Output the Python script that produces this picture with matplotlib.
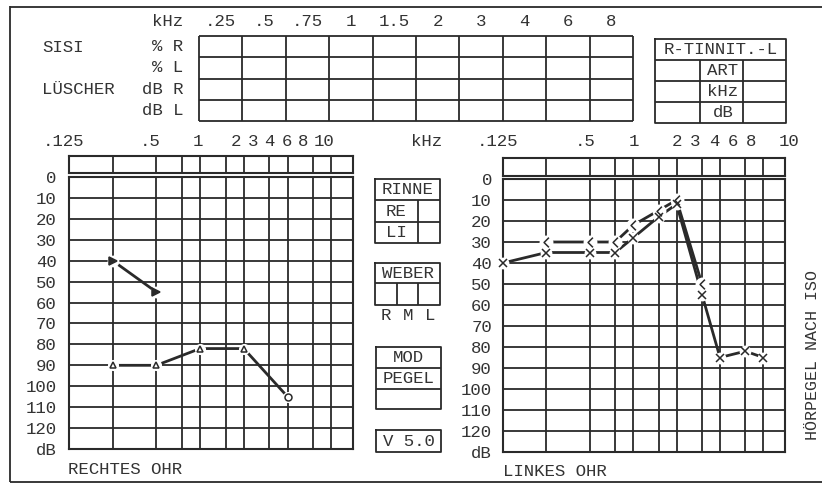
import matplotlib
matplotlib.use("Agg")
import matplotlib.pyplot as plt
from matplotlib.path import Path
from matplotlib.ticker import NullLocator

plt.rcParams["font.family"] = ["Liberation Mono", "DejaVu Sans Mono"]

# ---------------- data ----------------
grid_freqs = [0.125, 0.25, 0.5, 0.75, 1, 1.5, 2, 3, 4, 6, 8]
level_ticks = list(range(0, 140, 10))
level_labels = [str(v) for v in range(0, 130, 10)] + ["dB"]
scale_labels = [".125", ".5", "1", "2", "3", "4", "6", "8", "10"]

# right ear (RECHTES OHR)
re_bone_freq = [0.25, 0.5]
re_bone_db = [40, 55]
re_thr_freq = [0.25, 0.5, 1, 2, 4]
re_thr_db = [90, 90, 82, 82, 105]

# left ear (LINKES OHR)
li_air_freq = [0.125, 0.25, 0.5, 0.75, 1, 1.5, 2, 3, 4, 6, 8]
li_air_db = [40, 35, 35, 35, 28, 18, 12, 55, 85, 82, 85]
li_bone_freq = [0.25, 0.5, 0.75, 1, 1.5, 2, 3]
li_bone_db = [30, 30, 30, 22, 15, 10, 50]

# SISI / Lüscher table
sisi_freqs = [".25", ".5", ".75", "1", "1.5", "2", "3", "4", "6", "8"]
sisi_rows = ["% R", "% L", "dB R", "dB L"]
tinnitus_rows = ["ART", "kHz", "dB"]

# ---------------- page layout (pixels) ----------------
W, H = 822, 484
INK = "#2a2a2a"
TXT = "#333333"
FS = 12.5
LW = 1.3
XR = 11.3  # right edge of frequency axis (kHz)

fig = plt.figure(figsize=(W / 100, H / 100), dpi=100)
fig.patch.set_facecolor("white")

page = fig.add_axes([0, 0, 1, 1])
page.set_xlim(0, W)
page.set_ylim(H, 0)
page.axis("off")


def box(x0, y0, x1, y1):
    return [x0 / W, 1 - y1 / H, (x1 - x0) / W, (y1 - y0) / H]


def hline(y, x0, x1):
    page.plot([x0, x1], [y, y], color=INK, lw=LW, solid_capstyle="butt")


def vline(x, y0, y1):
    page.plot([x, x], [y0, y1], color=INK, lw=LW, solid_capstyle="butt")


def rect(x0, y0, x1, y1):
    page.plot([x0, x1, x1, x0, x0], [y0, y0, y1, y1, y0], color=INK, lw=LW)


def text(x, y, s, ha="center", **kw):
    page.text(x, y, s, ha=ha, va="center", fontsize=kw.pop("fs", FS),
              color=TXT, **kw)


# outer frame
vline(10, 6, 482)
hline(6.5, 10, W)
hline(482, 10, W)

# ---- SISI / LÜSCHER table ----
tx0, tcw = 199, 43.4
trows = [36, 57, 79, 100, 121]
for y in trows:
    hline(y, tx0, tx0 + tcw * len(sisi_freqs))
for i in range(len(sisi_freqs) + 1):
    vline(tx0 + i * tcw, trows[0], trows[-1])
for i, f in enumerate(sisi_freqs):
    text(tx0 + (i + 0.5) * tcw, 22, f)
text(183, 22, "kHz", ha="right")
for i, r in enumerate(sisi_rows):
    text(183, (trows[i] + trows[i + 1]) / 2, r, ha="right")
text(42, 47, "SISI", ha="left")
text(42, 89, "LÜSCHER", ha="left")

# ---- tinnitus box ----
rect(655, 39, 786, 123)
for y in [60, 81, 102]:
    hline(y, 655, 786)
vline(700, 60, 123)
vline(743, 60, 123)
text(720.5, 50, "R-TINNIT.-L")
for i, r in enumerate(tinnitus_rows):
    text(723, 70.5 + 21 * i, r)

# ---- frequency scale lines above the audiograms ----
left_label_x = [63, 150, 198, 236, 253, 269, 287, 303, 324]
right_label_x = [497, 585, 634, 677, 695, 714, 733, 751, 789]
for x, s in zip(left_label_x, scale_labels):
    text(x, 142, s)
for x, s in zip(right_label_x, scale_labels):
    text(x, 142, s)
text(427, 142, "kHz")

# ---- centre boxes ----
rect(375, 179, 440, 243)
hline(200, 375, 440)
hline(222, 375, 440)
vline(418, 200, 243)
text(407.5, 189.5, "RINNE")
text(396, 211, "RE")
text(396, 232.5, "LI")

rect(375, 263, 440, 305)
hline(283, 375, 440)
vline(397, 283, 305)
vline(418, 283, 305)
text(407.5, 273, "WEBER")
for x, s in zip([386, 408, 430], ["R", "M", "L"]):
    text(x, 316, s)

rect(376, 347, 441, 409)
hline(368, 376, 441)
hline(389, 376, 441)
text(408.5, 357.5, "MOD")
text(408.5, 378.5, "PEGEL")

rect(376, 430, 441, 452)
text(408.5, 441, "V 5.0")

text(68, 470, "RECHTES OHR", ha="left")
text(503, 472, "LINKES OHR", ha="left")
page.text(812, 355, "HÖRPEGEL NACH ISO", rotation=90, ha="center",
          va="center", fontsize=FS - 0.5, color=TXT)


# ---- audiogram axes ----
def audiogram(x0, x1, y0, y1, sy0, sy1, pad):
    ax = fig.add_axes(box(x0, y0, x1, y1))
    ax.set_xscale("log", base=2)
    ax.set_xlim(0.125, XR)
    ax.set_ylim(130, 0)
    ax.set_xticks(grid_freqs)
    ax.set_xticklabels([])
    ax.xaxis.set_minor_locator(NullLocator())
    ax.set_yticks(level_ticks)
    ax.set_yticklabels(level_labels)
    ax.tick_params(axis="both", length=0)
    ax.tick_params(axis="y", pad=pad, labelsize=FS, labelcolor=TXT)
    ax.grid(True, color=INK, lw=LW)
    ax.set_axisbelow(True)
    ax.set_facecolor("none")
    for s in ax.spines.values():
        s.set_color(INK)
        s.set_linewidth(LW + 0.2)

    st = fig.add_axes(box(x0, sy0, x1, sy1))
    st.set_xscale("log", base=2)
    st.set_xlim(0.125, XR)
    st.set_xticks(grid_freqs)
    st.xaxis.set_minor_locator(NullLocator())
    st.set_xticklabels([])
    st.set_yticks([])
    st.tick_params(length=0)
    st.grid(True, axis="x", color=INK, lw=LW)
    st.set_facecolor("none")
    for s in st.spines.values():
        s.set_color(INK)
        s.set_linewidth(LW + 0.2)
    return ax


def series(ax, f, db, marker, ms, filled=False, lw=2.0, line=True, mew=1.1):
    if line:
        ax.plot(f, db, color=INK, lw=lw, zorder=3, clip_on=False)
    # white halo so connecting lines stop short of the symbols
    ax.plot(f, db, ls="none", marker="o", ms=ms + 3, mfc="white",
            mec="none", zorder=4, clip_on=False)
    ax.plot(f, db, ls="none", marker=marker, ms=ms, mew=mew,
            mec=INK, mfc=INK if filled else "none", zorder=5, clip_on=False)


bone_left = Path([(0.5, 1.0), (-0.5, 0.0), (0.5, -1.0)],
                 [Path.MOVETO, Path.LINETO, Path.LINETO])

ax_r = audiogram(69, 353, 177, 449, 156, 173, pad=9)
ax_l = audiogram(503, 785, 179, 452, 158, 176, pad=8)

# right ear
series(ax_r, re_bone_freq, re_bone_db, ">", 5.5, filled=True)
ax_r.plot(re_thr_freq, re_thr_db, color=INK, lw=2.0, zorder=3)
series(ax_r, re_thr_freq[:-1], re_thr_db[:-1], "^", 5, line=False)
series(ax_r, re_thr_freq[-1:], re_thr_db[-1:], "o", 5, line=False)

# left ear
series(ax_l, li_air_freq, li_air_db, "x", 5.5)
series(ax_l, li_bone_freq, li_bone_db, bone_left, 7)

fig.savefig("out.png", dpi=100, facecolor="white")
